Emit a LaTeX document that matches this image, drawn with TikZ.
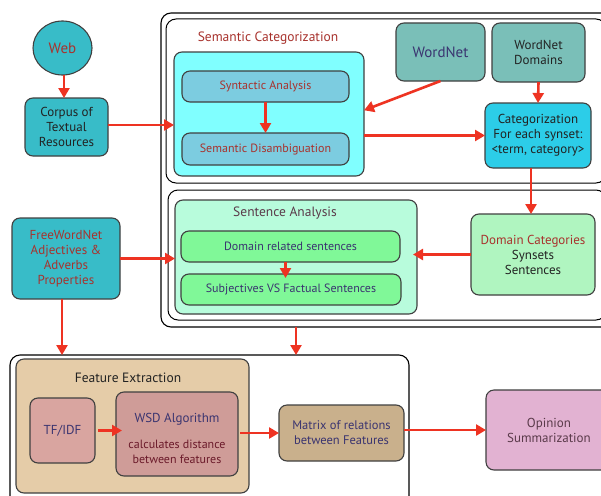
\documentclass[tikz,border=0pt]{standalone}
\usepackage{fontspec}
\setmainfont{PT Sans}
\usetikzlibrary{arrows.meta,calc,shapes.geometric}
\definecolor{redbrown}{HTML}{A8322D}
\definecolor{navy}{HTML}{3A3470}
\definecolor{darktxt}{HTML}{222222}
\definecolor{saTxt}{HTML}{5A3A4A}
\definecolor{maroon}{HTML}{6B1A2A}
\definecolor{arrowred}{HTML}{EE3322}
\definecolor{teal}{HTML}{38BCC8}
\definecolor{cyanbox}{HTML}{80FFFF}
\definecolor{synbox}{HTML}{7CCCE0}
\definecolor{wnbox}{HTML}{7ABFB8}
\definecolor{catbox}{HTML}{2CCDE8}
\definecolor{dcbox}{HTML}{B0F5C0}
\definecolor{sabox}{HTML}{B8FCDC}
\definecolor{greenbox}{HTML}{80F898}
\definecolor{febox}{HTML}{E5CCA8}
\definecolor{tfbox}{HTML}{D9A5A0}
\definecolor{wsdbox}{HTML}{CF9C98}
\definecolor{mxbox}{HTML}{C9B08C}
\definecolor{opbox}{HTML}{E2B2D2}
\newcommand{\mkbox}[7]{%
  \node[#6, minimum width={(#4)-(#2)}, minimum height={(#5)-(#3)}]
    (#1) at ({((#2)+(#4))/2},{-((#3)+(#5))/2}) {#7};}
\tikzset{
  x=1pt, y=1pt,
  every node/.style={inner sep=0pt, outer sep=0pt, align=center},
  frame/.style={draw=black, line width=1.1pt, rounded corners=10pt},
  rbox/.style={draw=black!75, line width=1.1pt, rounded corners=8pt},
  arr/.style={draw=arrowred, line width=2.6pt, -{Triangle[length=10pt,width=11pt]}},
  lbl/.style={font=\fontsize{13}{15}\selectfont},
  sml/.style={font=\fontsize{12}{15}\selectfont},
}
\begin{document}
\begin{tikzpicture}
\useasboundingbox (0,0) rectangle (601,-495);
\clip (0,0) rectangle (601,-495);
\fill[white] (0,0) rectangle (601,-495);
% frames
\mkbox{outer}{161}{13}{612}{327}{frame}{}
\mkbox{semframe}{166}{19}{606}{183}{frame, line width=1pt}{}
\mkbox{saframe}{168}{190}{606}{320}{frame, line width=1pt}{}
\mkbox{bottom}{10}{355}{409}{510}{frame}{}
% semantic categorization
\node[text=redbrown, font=\fontsize{13.5}{15}\selectfont] (semtitle) at (268,-38) {Semantic Categorization};
\mkbox{cyan}{174}{52}{364}{176}{rbox, fill=cyanbox}{}
\mkbox{syn}{182}{71}{349}{102}{rbox, fill=synbox, text=redbrown, sml}{Syntactic Analysis}
\mkbox{dis}{182}{133}{349}{165}{rbox, fill=synbox, text=redbrown, sml}{Semantic Disambiguation}
% left
\node[ellipse, draw=black!75, line width=1.1pt, fill=teal, minimum width=59pt, minimum height=54pt,
      text=redbrown, font=\fontsize{15}{17}\selectfont] (web) at (62.5,-48) {Web};
\mkbox{corpus}{25}{98}{108}{156}{rbox, fill=teal, text=darktxt, lbl}{Corpus of\\Textual\\Resources}
% wordnet
\mkbox{wordnet}{396}{23}{485}{81}{rbox, fill=wnbox, text=navy, font=\fontsize{15}{17}\selectfont}{WordNet}
\mkbox{domains}{492}{23}{585}{82}{rbox, fill=wnbox, text=darktxt, lbl}{WordNet\\Domains}
\mkbox{categ}{485}{103}{591}{168}{rbox, fill=catbox, text=darktxt, lbl}{Categorization\\For each synset:\\<term, category>}
% sentence analysis
\mkbox{sa}{175}{200}{417}{314}{rbox, fill=sabox}{}
\node[text=saTxt, font=\fontsize{13.5}{15}\selectfont] (satitle) at (285,-213) {Sentence Analysis};
\mkbox{dr}{181}{231}{400}{262}{rbox, fill=greenbox, text=navy, sml}{Domain related sentences}
\mkbox{subj}{181}{274}{401}{305}{rbox, fill=greenbox, text=navy, sml}{Subjectives VS Factual Sentences}
\mkbox{domcat}{471}{214}{595}{295}{rbox, fill=dcbox, text=darktxt, lbl}{\textcolor{redbrown}{Domain Categories}\\Synsets\\Sentences}
\mkbox{fwn}{12}{218}{120}{299}{rbox, fill=teal, text=redbrown, lbl}{FreeWordNet\\Adjectives \&\\Adverbs\\Properties}
% feature extraction
\mkbox{fe}{16}{359}{249}{493}{rbox, fill=febox}{}
\node[text=darktxt, font=\fontsize{13.5}{15}\selectfont] (fetitle) at (128,-378) {Feature Extraction};
\mkbox{tfidf}{30}{398}{95}{463}{rbox, fill=tfbox, text=navy, lbl}{TF/IDF}
\mkbox{wsd}{116}{392}{238}{476}{rbox, fill=wsdbox}{}
\node[text=navy, lbl] (wsdt) at (177,-419) {WSD Algorithm};
\node[text=maroon, sml] (wsdd) at (177,-452) {calculates distance\\between features};
\mkbox{matrix}{279}{405}{404}{461}{rbox, fill=mxbox, text=navy, font=\fontsize{12.5}{15}\selectfont}{Matrix of relations\\between Features}
\mkbox{opinion}{486}{390}{612}{470}{rbox, fill=opbox, text=saTxt, lbl}{Opinion\\Summarization}
% arrows
\draw[arr] (web.south) ++(1.5,0) coordinate (w1) -- (w1 |- corpus.north);
\draw[arr] ([yshift=2pt]corpus.east) -- ([yshift=2pt]corpus.east -| cyan.west);
\draw[arr] (syn.south) -- (dis.north);
\draw[arr] ([xshift=0pt]wordnet.south) -- ($(cyan.north east)!0.47!(cyan.south east)$);
\draw[arr] (domains.south) -- (categ.north);
\draw[arr] (cyan.east |- categ.west) -- (categ.west);
\draw[arr] ([xshift=-7pt]categ.south) -- ([xshift=-7pt]categ.south |- domcat.north);
\draw[arr, shorten >=-4pt] (domcat.west) -- (domcat.west -| sa.east);
\draw[arr, shorten >=-4pt] ([xshift=-5pt]dr.south) -- ([xshift=-5pt]dr.south |- subj.north);
\draw[arr] (fwn.east) -- (fwn.east -| sa.west);
\draw[arr] ([xshift=-4pt]fwn.south) -- ([xshift=-4pt]fwn.south |- bottom.north);
\draw[arr] (sa.south |- outer.south) -- (sa.south |- bottom.north);
\draw[arr, shorten <=3pt, shorten >=-6pt] (tfidf.east) -- (tfidf.east -| wsd.west);
\draw[arr] ([xshift=2pt]wsd.east |- matrix.west) -- (matrix.west);
\draw[arr] (matrix.east |- opinion.west) -- (opinion.west);
\end{tikzpicture}
\end{document}
